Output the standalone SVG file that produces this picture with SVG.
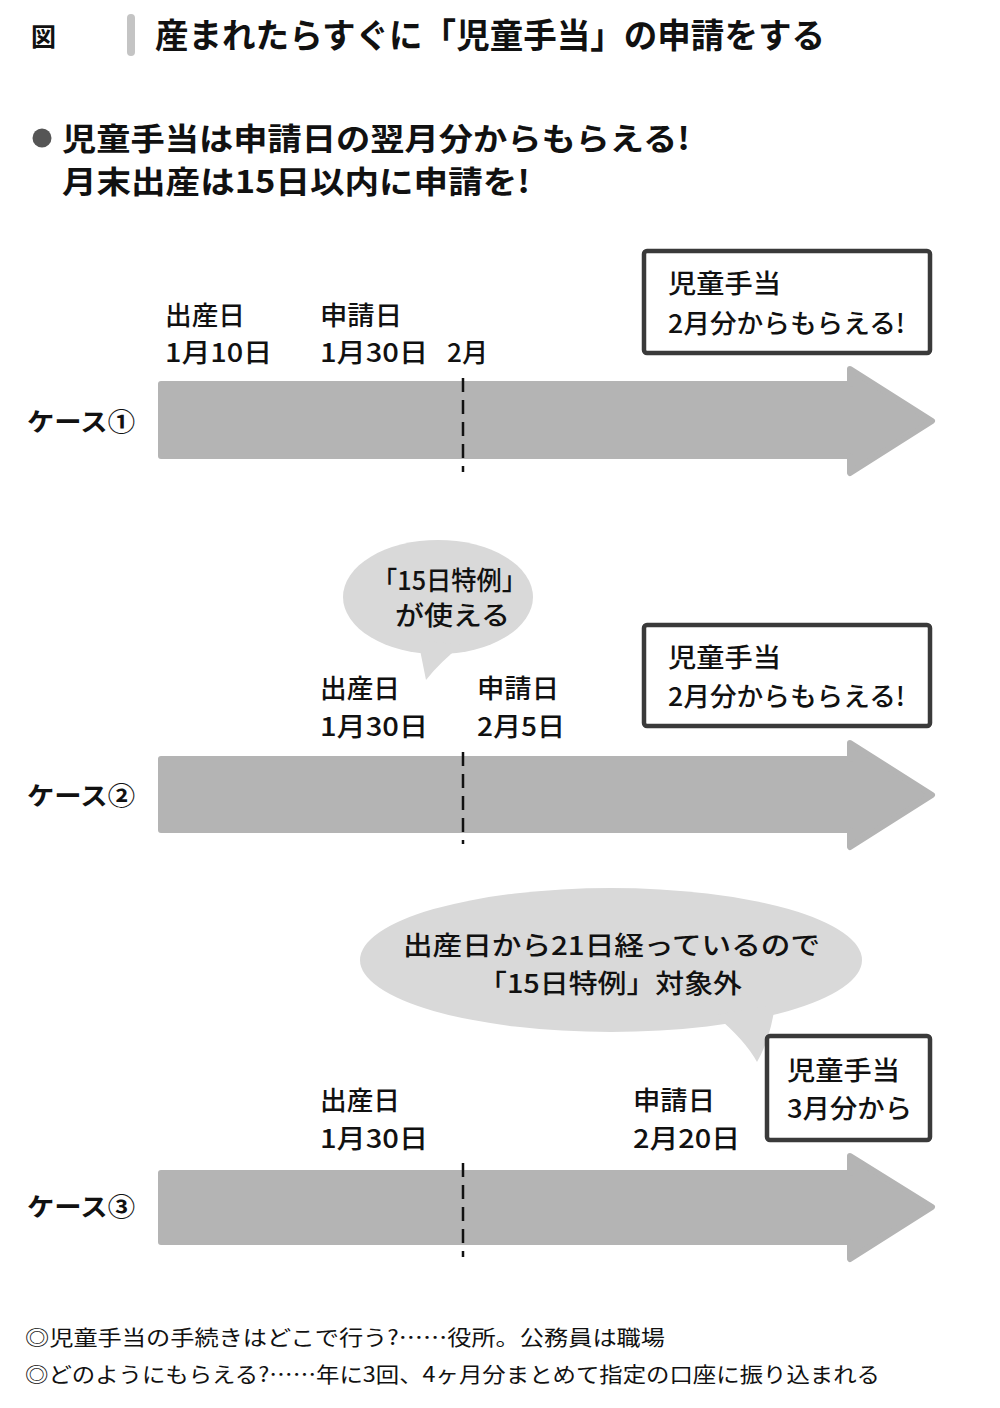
<svg xmlns="http://www.w3.org/2000/svg" width="1000" height="1408" viewBox="0 0 1000 1408">
<style>
text{font-family:"Noto Sans CJK JP","Noto Sans",sans-serif;fill:#111}
.t{font-size:34px;font-weight:700}
.s{font-size:31px;font-weight:700}
.l{font-size:26px;font-weight:500}
.c{font-size:25px;font-weight:700}
.f{font-size:21px;font-weight:400}
.arrow{fill:#b4b4b4;stroke:#b4b4b4;stroke-width:6;stroke-linejoin:round}
.dash{stroke:#111;stroke-width:2.5;stroke-dasharray:14 8}
.box{fill:#fff;stroke:#3a3a3a;stroke-width:4.5;stroke-linejoin:round}
.bub{fill:#d9d9d9}
</style>
<rect width="1000" height="1408" fill="#fff"/>
<g id="header">
<text x="31" y="46" style="font-size:25px;font-weight:700">図</text>
<rect x="127" y="14" width="8" height="42" rx="4" fill="#c4c4c4"/>
<text class="t" x="155" y="48" textLength="670" lengthAdjust="spacingAndGlyphs">産まれたらすぐに「児童手当」の申請をする</text>
<circle cx="42" cy="138" r="9.5" fill="#555"/>
<text class="s" x="62" y="150" textLength="628" lengthAdjust="spacingAndGlyphs">児童手当は申請日の翌月分からもらえる!</text>
<text class="s" x="62" y="193" textLength="468" lengthAdjust="spacingAndGlyphs">月末出産は15日以内に申請を!</text>
</g>
<g id="connectors">
<path class="arrow" d="M161,384 L850,384 L850,369 L932,421 L850,473 L850,456 L161,456 Z"/>
<path class="arrow" d="M161,759 L850,759 L850,743 L932,795 L850,847 L850,830 L161,830 Z"/>
<path class="arrow" d="M161,1173 L850,1173 L850,1156 L932,1207 L850,1259 L850,1242 L161,1242 Z"/>
<line class="dash" x1="463" y1="378" x2="463" y2="472"/>
<line class="dash" x1="463" y1="752" x2="463" y2="844"/>
<line class="dash" x1="463" y1="1163" x2="463" y2="1257"/>
</g>
<g id="case1">
<text class="c" x="27" y="431" textLength="108" lengthAdjust="spacingAndGlyphs">ケース①</text>
<text class="l" x="165" y="325" textLength="80" lengthAdjust="spacingAndGlyphs">出産日</text>
<text class="l" x="165" y="362" textLength="107" lengthAdjust="spacingAndGlyphs">1月10日</text>
<text class="l" x="320" y="325" textLength="82" lengthAdjust="spacingAndGlyphs">申請日</text>
<text class="l" x="320" y="362" textLength="108" lengthAdjust="spacingAndGlyphs">1月30日</text>
<text class="l" x="447" y="362" textLength="41" lengthAdjust="spacingAndGlyphs">2月</text>
</g>
<g id="box1">
<rect class="box" x="644" y="251" width="286" height="102" rx="3"/>
<text class="l" x="668" y="293" textLength="113" lengthAdjust="spacingAndGlyphs">児童手当</text>
<text class="l" x="668" y="333" textLength="237" lengthAdjust="spacingAndGlyphs">2月分からもらえる!</text>
</g>
<g id="case2">
<text class="c" x="27" y="805" textLength="108" lengthAdjust="spacingAndGlyphs">ケース②</text>
<text class="l" x="320" y="698" textLength="80" lengthAdjust="spacingAndGlyphs">出産日</text>
<text class="l" x="320" y="736" textLength="108" lengthAdjust="spacingAndGlyphs">1月30日</text>
<text class="l" x="477" y="698" textLength="82" lengthAdjust="spacingAndGlyphs">申請日</text>
<text class="l" x="477" y="736" textLength="88" lengthAdjust="spacingAndGlyphs">2月5日</text>
</g>
<g id="bubble2">
<ellipse class="bub" cx="438" cy="597" rx="95" ry="57"/>
<path class="bub" d="M418,640 L426,680 Q440,662 462,645 Z"/>
<text class="l" x="372" y="590" textLength="155" lengthAdjust="spacingAndGlyphs">「15日特例」</text>
<text class="l" x="395" y="625" textLength="115" lengthAdjust="spacingAndGlyphs">が使える</text>
</g>
<g id="box2">
<rect class="box" x="644" y="625" width="286" height="101" rx="3"/>
<text class="l" x="668" y="667" textLength="113" lengthAdjust="spacingAndGlyphs">児童手当</text>
<text class="l" x="668" y="706" textLength="237" lengthAdjust="spacingAndGlyphs">2月分からもらえる!</text>
</g>
<g id="case3">
<text class="c" x="27" y="1216" textLength="108" lengthAdjust="spacingAndGlyphs">ケース③</text>
<text class="l" x="320" y="1110" textLength="80" lengthAdjust="spacingAndGlyphs">出産日</text>
<text class="l" x="320" y="1148" textLength="108" lengthAdjust="spacingAndGlyphs">1月30日</text>
<text class="l" x="633" y="1110" textLength="82" lengthAdjust="spacingAndGlyphs">申請日</text>
<text class="l" x="633" y="1148" textLength="107" lengthAdjust="spacingAndGlyphs">2月20日</text>
</g>
<g id="bubble3">
<ellipse class="bub" cx="611" cy="960" rx="251" ry="72"/>
<path class="bub" d="M715,1015 Q745,1040 757,1062 Q770,1040 775,1005 Z"/>
<text class="l" x="403" y="955" textLength="417" lengthAdjust="spacingAndGlyphs">出産日から21日経っているので</text>
<text class="l" x="478" y="993" textLength="264" lengthAdjust="spacingAndGlyphs">「15日特例」対象外</text>
</g>
<g id="box3">
<rect class="box" x="767" y="1036" width="163" height="104" rx="3"/>
<text class="l" x="787" y="1080" textLength="113" lengthAdjust="spacingAndGlyphs">児童手当</text>
<text class="l" x="787" y="1118" textLength="125" lengthAdjust="spacingAndGlyphs">3月分から</text>
</g>
<g id="footer">
<text class="f" x="25" y="1345" textLength="640" lengthAdjust="spacingAndGlyphs">◎児童手当の手続きはどこで行う?……役所。公務員は職場</text>
<text class="f" x="25" y="1382" textLength="855" lengthAdjust="spacingAndGlyphs">◎どのようにもらえる?……年に3回、4ヶ月分まとめて指定の口座に振り込まれる</text>
</g>
</svg>
